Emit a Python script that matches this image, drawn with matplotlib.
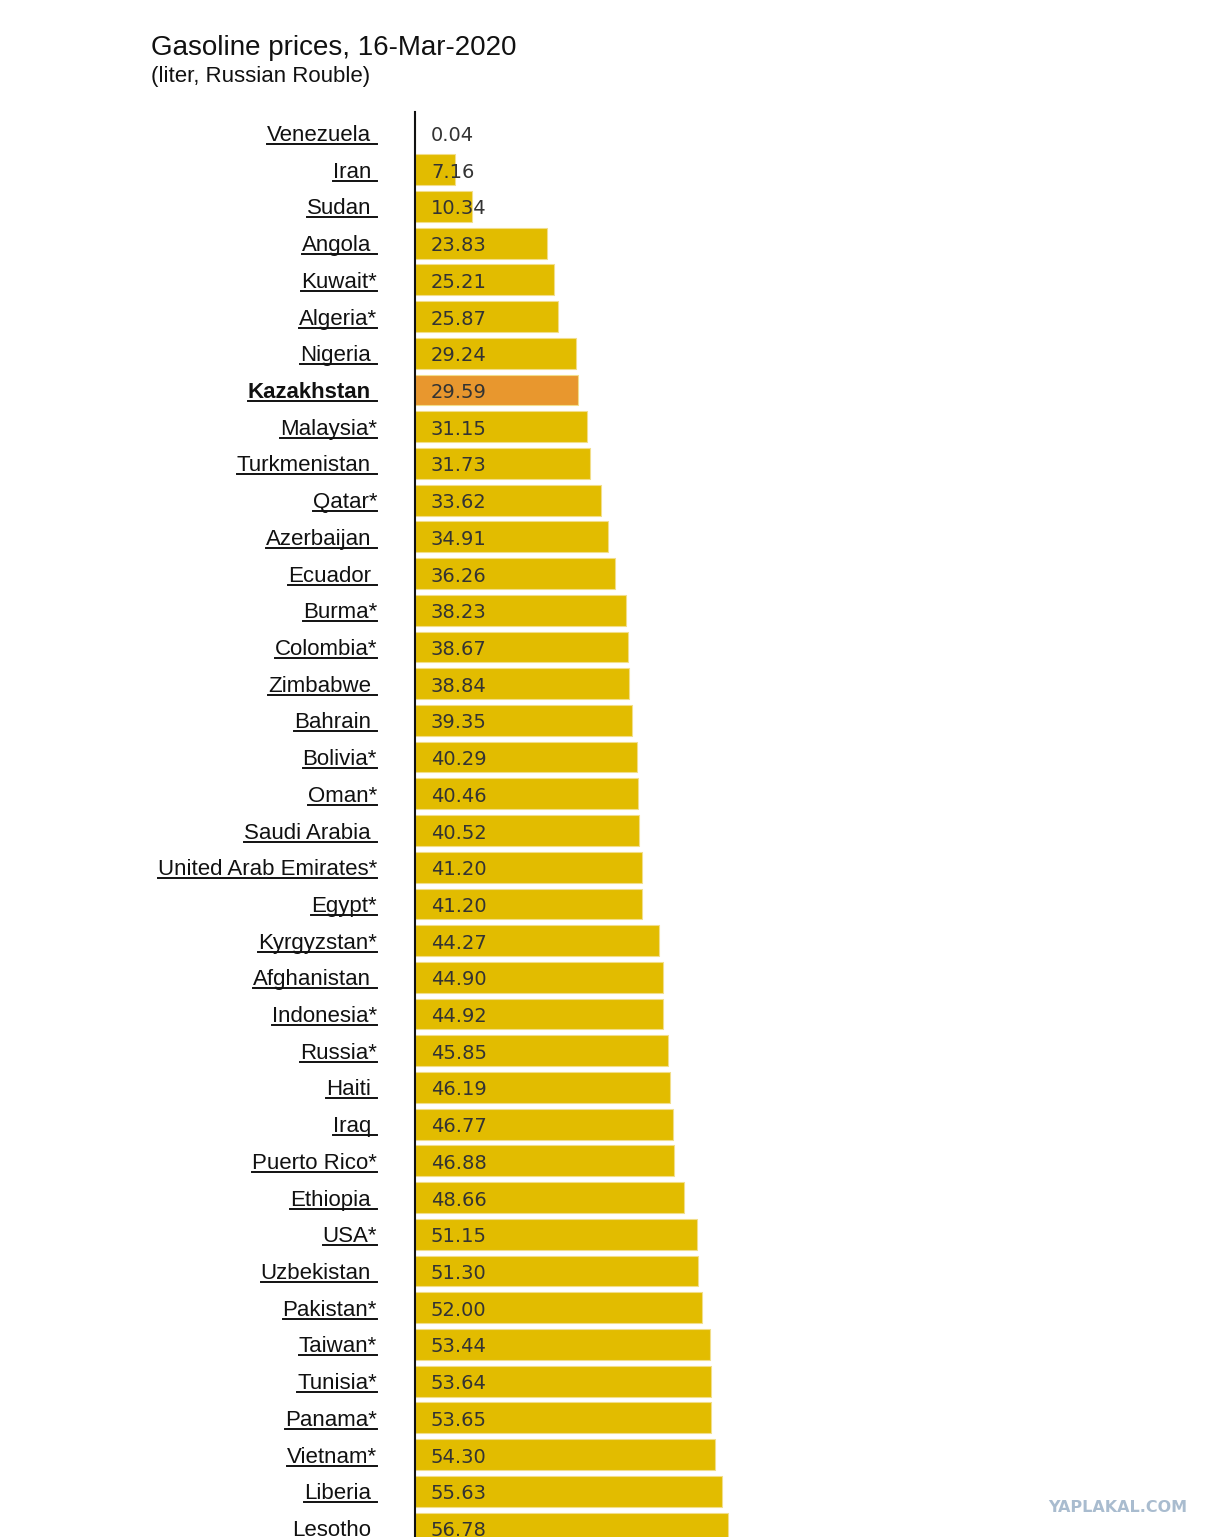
import matplotlib
matplotlib.use("Agg")
import matplotlib.pyplot as plt
from matplotlib.lines import Line2D

countries = ["Venezuela", "Iran", "Sudan", "Angola", "Kuwait*", "Algeria*", "Nigeria",
             "Kazakhstan", "Malaysia*", "Turkmenistan", "Qatar*", "Azerbaijan", "Ecuador",
             "Burma*", "Colombia*", "Zimbabwe", "Bahrain", "Bolivia*", "Oman*", "Saudi Arabia",
             "United Arab Emirates*", "Egypt*", "Kyrgyzstan*", "Afghanistan", "Indonesia*",
             "Russia*", "Haiti", "Iraq", "Puerto Rico*", "Ethiopia", "USA*", "Uzbekistan",
             "Pakistan*", "Taiwan*", "Tunisia*", "Panama*", "Vietnam*", "Liberia", "Lesotho"]
prices = [0.04, 7.16, 10.34, 23.83, 25.21, 25.87, 29.24,
          29.59, 31.15, 31.73, 33.62, 34.91, 36.26,
          38.23, 38.67, 38.84, 39.35, 40.29, 40.46, 40.52,
          41.20, 41.20, 44.27, 44.90, 44.92,
          45.85, 46.19, 46.77, 46.88, 48.66, 51.15, 51.30,
          52.00, 53.44, 53.64, 53.65, 54.30, 55.63, 56.78]
highlight = "Kazakhstan"

title = "Gasoline prices, 16-Mar-2020"
subtitle = "(liter, Russian Rouble)"
watermark = "YAPLAKAL.COM"

W, H = 1213, 1537
fig = plt.figure(figsize=(W / 100, H / 100), dpi=100)
fig.patch.set_facecolor("white")

ax_left, ax_right, ax_top, ax_bottom = 415, 1213, 112, 1537
ax = fig.add_axes([ax_left / W, 1 - ax_bottom / H, (ax_right - ax_left) / W, (ax_bottom - ax_top) / H])
ax.set_facecolor("white")

px_per_unit = 5.52
row_px = 36.71
ax.set_xlim(0, (ax_right - ax_left) / px_per_unit)
ax.set_ylim(len(countries) - 1 + 9 / row_px, -21 / row_px)

ypos = list(range(len(countries)))
colors = ["#E8972E" if c == highlight else "#E2BC00" for c in countries]
ax.barh(ypos, prices, height=0.84, color=colors, edgecolor="#F2DE8A", linewidth=0.8)

for s in ["top", "right", "bottom"]:
    ax.spines[s].set_visible(False)
ax.spines["left"].set_linewidth(1.5)
ax.spines["left"].set_color("#111111")
ax.set_xticks([])
ax.set_yticks([])

def axfrac(px):
    return (px - ax_left) / (ax_right - ax_left)

ytr = ax.get_yaxis_transform()
base_off = 8 / row_px
ul_off = 11 / row_px

label_texts = []
for i, (c, v) in enumerate(zip(countries, prices)):
    right_px = 377 if c.endswith("*") else 371
    t = ax.text(axfrac(right_px), i + base_off, c, transform=ytr, ha="right", va="baseline",
                fontsize=16, family=["Liberation Sans", "DejaVu Sans"],
                fontweight="bold" if c == highlight else "normal",
                color="#111111", clip_on=False)
    label_texts.append((t, i))
    ax.text(axfrac(431), i + base_off, f"{v:.2f}", transform=ytr, ha="left", va="baseline",
            fontsize=14, family="DejaVu Sans", color="#333333", clip_on=False)

fig.canvas.draw()
renderer = fig.canvas.get_renderer()
for t, i in label_texts:
    bb = t.get_window_extent(renderer)
    x0 = (bb.x0 - ax.bbox.x0) / ax.bbox.width
    ln = Line2D([x0, axfrac(377)], [i + ul_off, i + ul_off], transform=ytr,
                color="#111111", linewidth=1.4, clip_on=False)
    ax.add_artist(ln)

fig.text(151 / W, 1 - 55 / H, title, fontsize=20, family="Liberation Sans",
         color="#111111", ha="left", va="baseline")
fig.text(151 / W, 1 - 82 / H, subtitle, fontsize=16, family="Liberation Sans",
         color="#111111", ha="left", va="baseline")
fig.text(1187 / W, 1 - 1507 / H, watermark, fontsize=11.5, fontweight="bold",
         family=["Liberation Sans Narrow", "DejaVu Sans"], color="#A9BCCF",
         ha="right", va="center")

fig.savefig("out.png", dpi=100, facecolor="white")
